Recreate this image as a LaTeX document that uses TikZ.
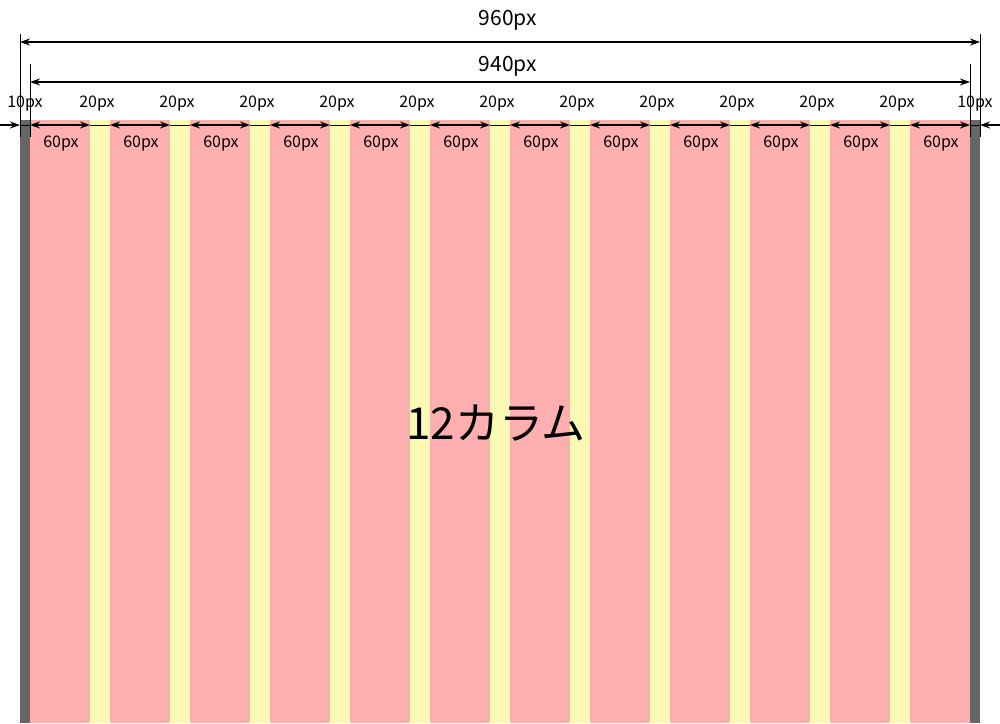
\documentclass[tikz,border=0pt]{standalone}
\usepackage{fontspec}
\setmainfont{Noto Sans CJK JP}
\usetikzlibrary{arrows.meta}
\definecolor{colpink}{HTML}{FFAFAF}
\definecolor{gutteryellow}{HTML}{FAFAB4}
\definecolor{margingray}{HTML}{666666}
\tikzset{
  dimline/.style={draw=black, line width=1.1pt, {Stealth[length=10pt,width=7pt]}-{Stealth[length=10pt,width=7pt]}},
  halfdim/.style={draw=black, line width=1.1pt, -{Stealth[length=10pt,width=7pt]}},
  extline/.style={draw=black, line width=0.9pt},
  biglab/.style={font=\fontsize{21}{21}\selectfont},
  smalllab/.style={font=\fontsize{16}{16}\selectfont},
}

\begin{document}
\begin{tikzpicture}[x=1pt,y=-1pt]
  \useasboundingbox (0,0) rectangle (1000,723);

  % margins
  \fill[margingray] (20,120) rectangle (30,723);
  \fill[margingray] (970,120) rectangle (980,723);

  % columns and gutters
  \foreach \i in {0,...,11} {
    \fill[colpink] ({30+80*\i},120) rectangle ({90+80*\i},723);
    \node[smalllab] (w\i) at ({61+80*\i},144) {60px};
    \coordinate (cl\i) at ({30+80*\i},125);
    \coordinate (cr\i) at ({90+80*\i},125);
    \draw[dimline] (cl\i) -- (cr\i);
  }
  \foreach \i in {0,...,10} {
    \fill[gutteryellow] ({90+80*\i},120) rectangle ({110+80*\i},723);
    \node[smalllab] (g\i) at ({97+80*\i},104) {20px};
    \draw[extline] (cr\i) -- ({110+80*\i},125);
  }

  % outer margins 10px
  \coordinate (L0) at (0,125);
  \coordinate (L1) at (20,125);
  \coordinate (R0) at (1000,125);
  \coordinate (R1) at (980,125);
  \draw[halfdim] (L0) -- (L1);
  \draw[halfdim] (R0) -- (R1);
  \draw[extline] (L1) -- (cl0);
  \draw[extline] (cr11) -- (R1);
  \node[smalllab] (ml) at (25,104) {10px};
  \node[smalllab] (mr) at (975,104) {10px};

  % extension lines
  \coordinate (A) at (20,34);
  \coordinate (B) at (980,34);
  \coordinate (C) at (30,64);
  \coordinate (D) at (970,64);
  \draw[extline] (A) -- (20,137);
  \draw[extline] (B) -- (980,137);
  \draw[extline] (C) -- (30,137);
  \draw[extline] (D) -- (970,137);

  % overall widths
  \draw[dimline] (20,42) -- (980,42);
  \draw[dimline] (30,82) -- (970,82);
  \node[biglab] (full) at (508,20) {960px};
  \node[biglab] (inner) at (508,66) {940px};

  \node[font=\fontsize{44}{44}\selectfont] (title) at (496,423) {12カラム};
\end{tikzpicture}
\end{document}
